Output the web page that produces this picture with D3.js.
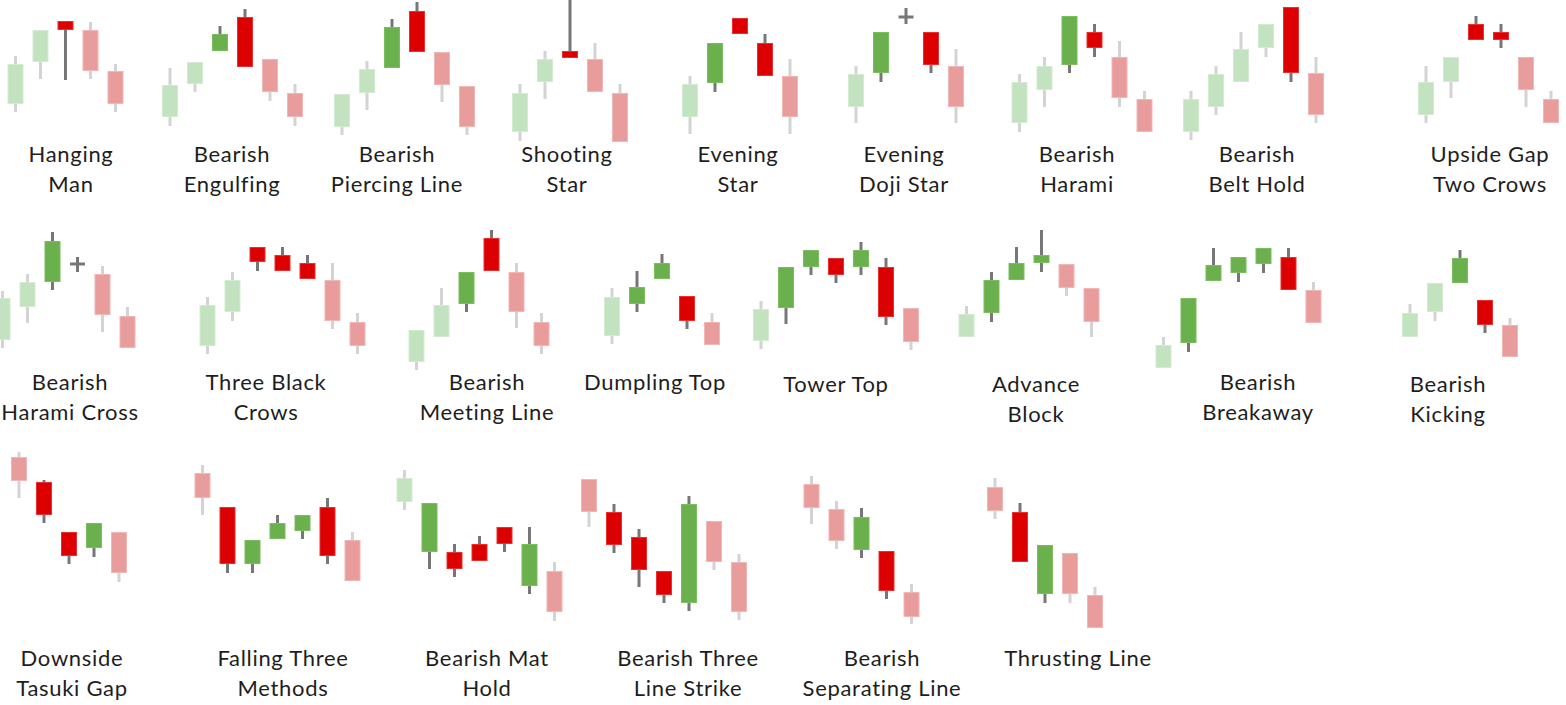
<!DOCTYPE html>
<html>
<head>
<meta charset="utf-8">
<style>
  body { margin: 0; background: #fff; }
  svg text { font: 400 22px Lato, sans-serif; letter-spacing: 0.7px; fill: #1e1e1e; }
  .wick-f { stroke: #d3d3d3; stroke-width: 3px; }
  .wick-s { stroke: #777; stroke-width: 3px; }
</style>
</head>
<body>
<script src="https://d3js.org/d3.v7.min.js"></script>
<script>
// each candle: [open, high, low, close, kind]   kind: f = context candle, s = signal candle, d = doji
var hangingMan = [[4.6, 9.4, 3.8, 8.6, "f"], [8.8, 12.0, 7.1, 12.0, "f"], [12.9, 12.9, 7.0, 12.0, "s"], [12.0, 12.8, 7.1, 7.9, "f"], [7.9, 8.6, 3.8, 4.6, "f"]];
var bearishEngulfing = [[3.3, 8.2, 2.4, 6.5, "f"], [6.6, 8.8, 5.8, 8.8, "f"], [9.9, 12.4, 9.9, 11.6, "s"], [13.3, 14.1, 8.3, 8.3, "s"], [9.1, 9.1, 4.9, 5.8, "f"], [5.7, 6.6, 2.4, 3.3, "f"]];
var piercingLine = [[2.3, 5.6, 1.5, 5.6, "f"], [5.7, 8.9, 4.0, 8.1, "f"], [8.2, 13.1, 8.2, 12.3, "s"], [13.9, 14.8, 9.8, 9.8, "s"], [9.8, 9.8, 4.8, 6.5, "f"], [6.4, 6.4, 1.5, 2.3, "f"]];
var shootingStar = [[1.8, 6.6, 0.9, 5.7, "f"], [6.8, 9.9, 5.1, 9.1, "f"], [9.9, 15.2, 9.2, 9.2, "s"], [9.1, 10.7, 5.8, 5.8, "f"], [5.7, 6.6, 0.8, 0.8, "f"]];
var eveningStar = [[3.3, 7.4, 1.6, 6.6, "f"], [6.7, 10.7, 5.8, 10.7, "s"], [13.2, 13.2, 11.6, 11.6, "s"], [10.7, 11.6, 7.4, 7.4, "s"], [7.4, 9.1, 1.6, 3.3, "f"]];
var eveningDoji = [[4.3, 8.4, 2.7, 7.6, "f"], [7.7, 11.8, 6.8, 11.8, "s"], [13.3, 14.2, 12.6, 13.3, "d"], [11.8, 11.8, 7.7, 8.5, "s"], [8.4, 10.1, 2.7, 4.3, "f"]];
var bearishHarami = [[2.7, 7.6, 1.8, 6.8, "f"], [6.0, 9.3, 4.3, 8.4, "f"], [8.5, 13.4, 7.7, 13.4, "s"], [11.8, 12.6, 9.3, 10.2, "s"], [9.3, 10.9, 4.3, 5.2, "f"], [5.1, 5.9, 1.8, 1.8, "f"]];
var beltHold = [[1.8, 5.9, 1.0, 5.1, "f"], [4.3, 8.4, 3.5, 7.6, "f"], [6.8, 11.8, 6.8, 10.1, "f"], [10.2, 12.6, 9.3, 12.6, "f"], [14.3, 14.3, 6.8, 7.7, "s"], [7.7, 9.3, 2.7, 3.5, "f"]];
var twoCrows = [[3.5, 8.4, 2.7, 6.8, "f"], [6.8, 9.3, 5.2, 9.3, "f"], [12.6, 13.4, 11.0, 11.0, "s"], [11.8, 12.6, 10.2, 11.0, "s"], [9.3, 9.3, 4.3, 6.0, "f"], [5.1, 5.9, 2.7, 2.7, "f"]];

var haramiCross = [[4.0, 8.9, 3.2, 8.2, "f"], [7.3, 10.6, 5.7, 9.8, "f"], [9.8, 14.8, 9.0, 13.9, "s"], [11.6, 12.3, 10.8, 11.6, "d"], [10.6, 11.4, 4.8, 6.5, "f"], [6.4, 7.3, 3.2, 3.2, "f"]];
var blackCrows = [[3.4, 8.3, 2.6, 7.5, "f"], [6.8, 10.8, 5.9, 10.0, "f"], [13.3, 13.3, 10.9, 11.8, "s"], [12.5, 13.3, 10.9, 10.9, "s"], [11.7, 12.5, 10.1, 10.1, "s"], [10.0, 11.7, 5.1, 5.9, "f"], [5.8, 6.7, 2.6, 3.4, "f"]];
var meetingLine = [[1.8, 5.0, 1.0, 5.0, "f"], [4.3, 9.2, 4.3, 7.5, "f"], [7.6, 10.8, 6.8, 10.8, "s"], [14.2, 15.0, 10.9, 10.9, "s"], [10.8, 11.7, 5.2, 6.8, "f"], [5.8, 6.7, 2.6, 3.4, "f"]];
var dumplingTop = [[4.4, 9.2, 3.6, 8.3, "f"], [7.6, 10.9, 6.8, 9.3, "s"], [10.1, 12.6, 10.1, 11.7, "s"], [8.4, 8.4, 5.1, 5.9, "s"], [5.8, 6.7, 3.5, 3.5, "f"]];
var towerTop = [[3.9, 7.9, 3.1, 7.1, "f"], [7.2, 11.3, 5.6, 11.3, "s"], [11.3, 13.0, 10.5, 13.0, "s"], [12.2, 12.2, 9.7, 10.5, "s"], [11.3, 13.8, 10.5, 13.0, "s"], [11.3, 12.2, 5.5, 6.3, "s"], [7.2, 7.2, 3.0, 3.8, "f"]];
var advanceBlock = [[4.3, 7.4, 4.3, 6.6, "f"], [6.7, 10.8, 5.8, 10.0, "s"], [10.0, 13.3, 10.0, 11.7, "s"], [11.7, 15.0, 10.8, 12.5, "s"], [11.6, 11.6, 8.4, 9.2, "f"], [9.2, 9.2, 4.3, 5.8, "f"]];
var breakaway = [[1.2, 4.3, 1.2, 3.5, "f"], [3.7, 8.2, 2.8, 8.2, "s"], [9.9, 13.2, 9.9, 11.5, "s"], [10.7, 12.3, 9.8, 12.3, "s"], [11.6, 13.2, 10.7, 13.2, "s"], [12.3, 13.2, 9.0, 9.0, "s"], [9.0, 9.8, 5.7, 5.7, "f"]];
var kicking = [[4.3, 7.6, 4.3, 6.7, "f"], [6.8, 9.7, 5.9, 9.7, "f"], [9.7, 13.0, 9.7, 12.2, "s"], [8.0, 8.0, 4.7, 5.5, "s"], [5.5, 6.2, 2.3, 2.3, "f"]];

var tasukiGap = [[18.3, 18.8, 14.2, 15.9, "f"], [15.8, 16.0, 11.7, 12.5, "s"], [10.8, 10.8, 7.6, 8.4, "s"], [9.2, 11.7, 8.3, 11.7, "s"], [10.8, 10.8, 5.8, 6.7, "f"]];
var threeMethods = [[16.7, 17.5, 12.5, 14.2, "f"], [13.3, 13.3, 6.7, 7.6, "s"], [7.6, 10.0, 6.7, 10.0, "s"], [10.1, 12.5, 10.1, 11.7, "s"], [10.9, 12.5, 10.1, 12.5, "s"], [13.3, 14.2, 7.6, 8.4, "s"], [10.0, 10.8, 5.9, 5.9, "f"]];
var matHold = [[13.8, 17.0, 13.0, 16.2, "f"], [8.8, 13.7, 7.1, 13.7, "s"], [8.8, 9.6, 6.3, 7.1, "s"], [9.6, 10.4, 7.9, 7.9, "s"], [11.3, 11.3, 8.8, 9.6, "s"], [5.4, 11.3, 4.6, 9.6, "s"], [6.9, 7.8, 1.9, 2.8, "f"]];
var lineStrike = [[16.1, 16.1, 11.3, 12.8, "f"], [12.8, 13.6, 8.7, 9.5, "s"], [10.3, 11.1, 5.3, 7.0, "s"], [6.9, 6.9, 3.7, 4.5, "s"], [3.7, 14.4, 2.9, 13.6, "s"], [11.9, 11.9, 7.0, 7.8, "f"], [7.8, 8.6, 2.0, 2.8, "f"]];
var separatingLine = [[15.6, 16.4, 11.6, 13.2, "f"], [13.1, 13.9, 9.1, 9.9, "f"], [9.0, 13.2, 8.2, 12.3, "s"], [8.9, 8.9, 4.1, 4.9, "s"], [4.8, 5.6, 1.6, 2.3, "f"]];
var thrustingLine = [[15.3, 16.2, 12.1, 12.9, "f"], [12.8, 13.7, 7.8, 7.8, "s"], [4.6, 9.5, 3.7, 9.5, "s"], [8.7, 8.7, 3.7, 4.6, "f"], [4.5, 5.3, 1.2, 1.2, "f"]];

var names = [
  ["Hanging", "Man"], ["Bearish", "Engulfing"], ["Bearish", "Piercing Line"], ["Shooting", "Star"],
  ["Evening", "Star"], ["Evening", "Doji Star"], ["Bearish", "Harami"], ["Bearish", "Belt Hold"],
  ["Upside Gap", "Two Crows"],
  ["Bearish", "Harami Cross"], ["Three Black", "Crows"], ["Bearish", "Meeting Line"], ["Dumpling Top"],
  ["Tower Top"], ["Advance", "Block"], ["Bearish", "Breakaway"], ["Bearish", "Kicking"],
  ["Downside", "Tasuki Gap"], ["Falling Three", "Methods"], ["Bearish Mat", "Hold"],
  ["Bearish Three", "Line Strike"], ["Bearish", "Separating Line"], ["Thrusting Line"]
];

var patterns = [hangingMan, bearishEngulfing, piercingLine, shootingStar, eveningStar, eveningDoji,
  bearishHarami, beltHold, twoCrows, haramiCross, blackCrows, meetingLine, dumplingTop, towerTop,
  advanceBlock, breakaway, kicking, tasukiGap, threeMethods, matHold, lineStrike, separatingLine, thrustingLine];

// layout: row, first candle centre x, label centre x, label nudge y
var layout = [
  [0, 15.5, 71, 0], [0, 170, 232, 0], [0, 342, 397, 0], [0, 520, 567, 0], [0, 690, 738, 0],
  [0, 856, 904, 0], [0, 1019.5, 1077, 0], [0, 1191, 1257, 0], [0, 1426, 1490, 0],
  [1, 2.5, 70, 0], [1, 207.5, 266, 0], [1, 416.5, 487, 0], [1, 612, 655, 0], [1, 761, 836, 2],
  [1, 966.5, 1036, 2], [1, 1163.5, 1258, 0], [1, 1410, 1448, 2],
  [2, 19, 72, 0], [2, 202.5, 283, 0], [2, 404.5, 487, 0], [2, 589, 688, 0], [2, 811.5, 882, 0], [2, 995, 1078, 0]
];

var width = 1566, height = 705;
var step = 25, bodyW = 16, dojiW = 15;
var rowBase = [150, 380, 640];
var labelBase = [162, 390, 666];
var lineGap = 30;

var fills = { fu: "#c3e3c0", fd: "#e99c9c", su: "#6ab04c", sd: "#dd0000" };
var edges = { fu: "#d3ebd0", fd: "#f1b6b6", su: "#7bbd60", sd: "#e83030" };

var svg = d3.select("body").append("svg")
    .attr("width", width)
    .attr("height", height);

var yScales = rowBase.map(function (b) {
  return d3.scaleLinear().domain([0, 10]).range([b, b - 100]);
});

patterns.forEach(function (candles, p) {
  var row = layout[p][0];
  var y = yScales[row];
  var x = d3.scaleLinear().domain([0, 1]).range([layout[p][1], layout[p][1] + step]);
  var g = svg.append("g").attr("class", "pattern");

  // wicks
  g.selectAll("line.wick")
    .data(candles)
    .enter().append("line")
      .attr("class", function (d) { return d[4] === "f" ? "wick wick-f" : "wick wick-s"; })
      .attr("x1", function (d, i) { return x(i); })
      .attr("x2", function (d, i) { return x(i); })
      .attr("y1", function (d) { return y(d[1]); })
      .attr("y2", function (d) { return y(d[2]); });

  // bodies
  g.selectAll("rect.body")
    .data(candles.filter(function (d) { return d[4] !== "d"; }))
    .enter().append("rect")
      .attr("class", "body")
      .attr("x", function (d) { return x(candles.indexOf(d)) - bodyW / 2 + 0.5; })
      .attr("y", function (d) { return y(Math.max(d[0], d[3])) + 0.5; })
      .attr("width", bodyW - 1)
      .attr("height", function (d) { return Math.abs(y(d[0]) - y(d[3])) - 1; })
      .style("fill", function (d) { return fills[d[4] + (d[3] > d[0] ? "u" : "d")]; })
      .style("stroke", function (d) { return edges[d[4] + (d[3] > d[0] ? "u" : "d")]; })
      .style("stroke-width", "1px");

  // doji crossbar
  g.selectAll("line.doji")
    .data(candles.filter(function (d) { return d[4] === "d"; }))
    .enter().append("line")
      .attr("class", "doji wick-s")
      .attr("x1", function (d) { return x(candles.indexOf(d)) - dojiW / 2; })
      .attr("x2", function (d) { return x(candles.indexOf(d)) + dojiW / 2; })
      .attr("y1", function (d) { return y(d[0]); })
      .attr("y2", function (d) { return y(d[0]); });

  // label
  var t = g.append("text")
      .attr("x", layout[p][2])
      .attr("y", labelBase[row] + layout[p][3])
      .style("text-anchor", "middle");
  names[p].forEach(function (line, k) {
    t.append("tspan")
      .attr("x", layout[p][2])
      .attr("dy", k === 0 ? 0 : lineGap)
      .text(line);
  });
});
</script>
</body>
</html>
